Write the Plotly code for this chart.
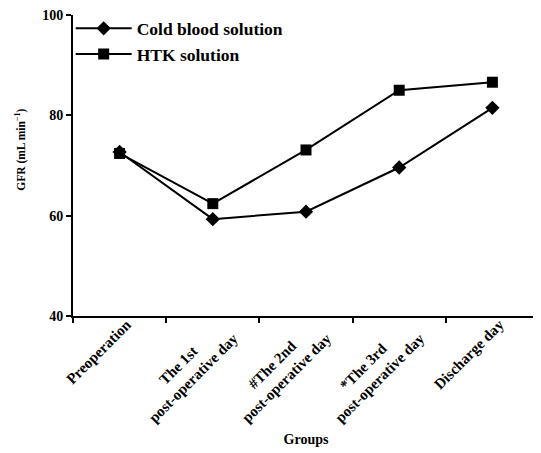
import plotly.graph_objects as go

NB = "\u00a0"
categories = ["Preoperation", "The 1st<br>post-operative day", "#The 2nd<br>post-operative day",
              "*The 3rd<br>post-operative day", "Discharge day"]
tick_labels = ["Preoperation",
               "The 1st" + NB * 10 + "<br>post-operative day",
               "#The 2nd" + NB * 8 + "<br>post-operative day",
               "*The 3rd" + NB * 9 + "<br>post-operative day",
               "Discharge day"]
cold_blood = [72.7, 59.3, 60.8, 69.6, 81.5]
htk = [72.4, 62.4, 73.1, 85.0, 86.6]
y_ticks = [40, 60, 80, 100]

font_family = "Liberation Serif"

fig = go.Figure()
fig.add_trace(go.Scatter(
    x=categories, y=cold_blood, name="<b>Cold blood solution</b>", mode="lines+markers",
    line=dict(color="black", width=2),
    marker=dict(symbol="diamond", size=11, color="black"),
))
fig.add_trace(go.Scatter(
    x=categories, y=htk, name="<b>HTK solution</b>", mode="lines+markers",
    line=dict(color="black", width=2),
    marker=dict(symbol="square", size=11, color="black"),
))

fig.update_layout(
    width=533, height=445,
    margin=dict(l=65, r=2, t=7, b=137),
    paper_bgcolor="white", plot_bgcolor="white",
    font=dict(family=font_family, color="black", size=14),
    showlegend=True,
    legend=dict(x=-0.005, y=1.015, xanchor="left", yanchor="top",
                font=dict(size=17.5, family=font_family, color="black"),
                bgcolor="rgba(0,0,0,0)", itemwidth=56, tracegroupgap=0),
    xaxis=dict(
        type="category", range=[-0.5, 4.5], automargin=False,
        showline=True, linecolor="black", linewidth=2,
        ticks="outside", tickson="boundaries", ticklen=5, tickwidth=2, tickcolor="black",
        tickangle=-45, showgrid=False, zeroline=False,
        tickfont=dict(size=15, family=font_family),
        ticklabelshift=7, ticklabelstandoff=-8, ticklabeloverflow="allow",
        title=dict(text="<b>Groups</b>", font=dict(size=14, family=font_family), standoff=10),
        tickvals=categories,
        ticktext=["<b>" + c.replace("<br>", "</b><br><b>") + "</b>" for c in tick_labels],
    ),
    yaxis=dict(
        range=[40, 100], tickvals=y_ticks, ticktext=["<b>%d</b>" % v for v in y_ticks],
        automargin=False, ticklabeloverflow="allow",
        showline=True, linecolor="black", linewidth=2,
        ticks="outside", ticklen=5, tickwidth=2, tickcolor="black",
        showgrid=False, zeroline=False,
        tickfont=dict(size=14, family=font_family),
        title=dict(text="<b>" + NB * 11 + "GFR (mL min<sup>−1</sup>)</b>",
                   font=dict(size=11.5, family=font_family), standoff=14),
    ),
)

fig.write_html("out.html")
